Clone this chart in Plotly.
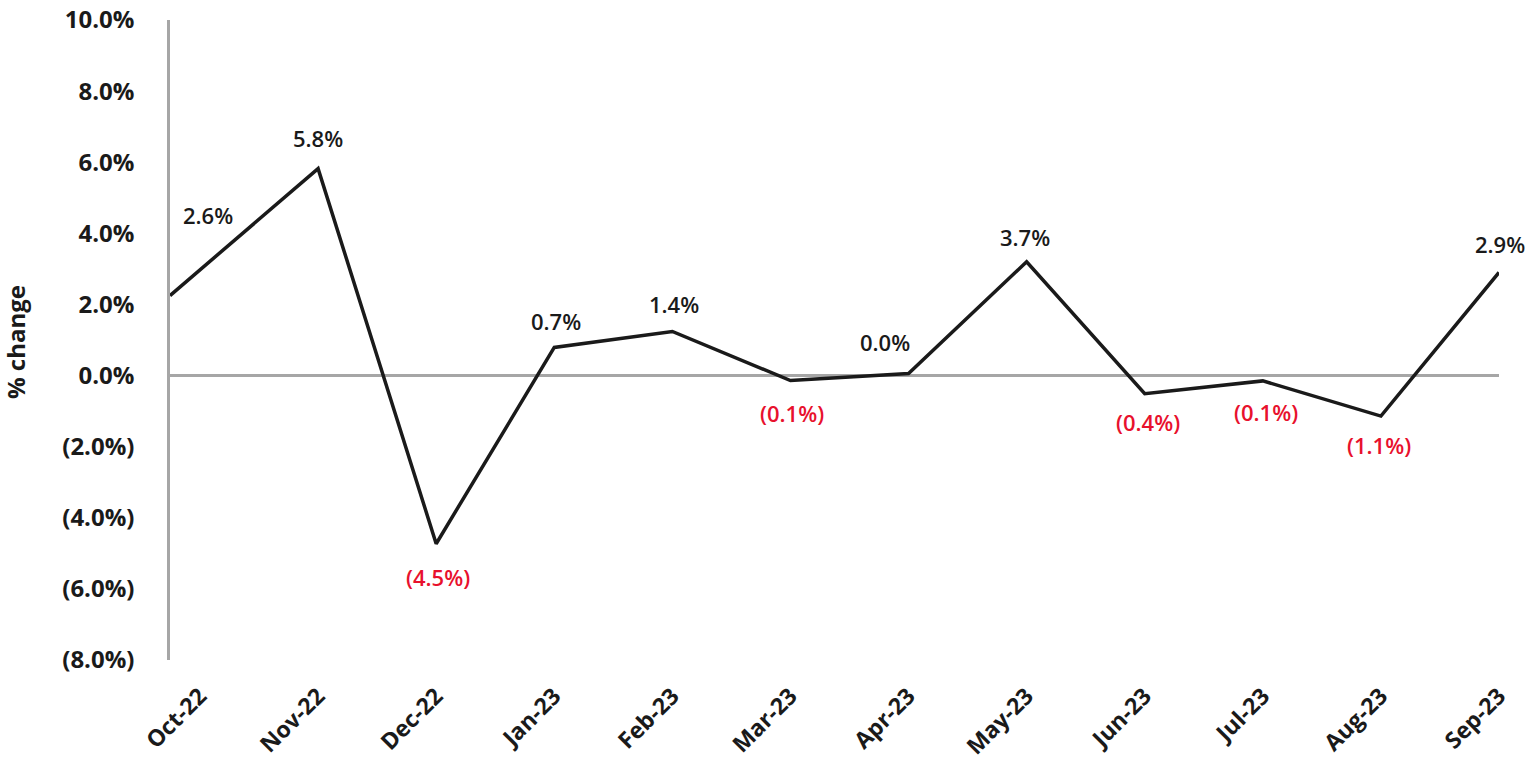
import plotly.graph_objects as go

# ---------------- data ----------------
months = ["Oct-22", "Nov-22", "Dec-22", "Jan-23", "Feb-23", "Mar-23",
          "Apr-23", "May-23", "Jun-23", "Jul-23", "Aug-23", "Sep-23"]
# line vertices as drawn (position on the month axis, % change)
line_pos = [-0.254, 1, 2, 3, 4, 5, 6, 7, 8, 9, 10, 11]
line_values = [2.25, 5.82, -4.73, 0.79, 1.24, -0.14, 0.06, 3.2, -0.51, -0.15, -1.14, 2.9]
# printed data labels
label_values = [2.6, 5.8, -4.5, 0.7, 1.4, -0.1, 0.0, 3.7, -0.4, -0.1, -1.1, 2.9]
y_ticks = [10, 8, 6, 4, 2, 0, -2, -4, -6, -8]
y_title = "% change"


def fmt(v):
    return f"{v:.1f}%" if v >= 0 else f"({abs(v):.1f}%)"


# ---------------- style ----------------
FONT = "Open Sans"
BLACK = "#1a1a1a"
RED = "#E8112D"
GREY = "#A6A6A6"
label_yshift = [81, 31, -33, 26, 27, -32, 31, 25, -28, -31, -29, 28]
label_xshift = [8, 0, 2, 2, 2, 2, -24, -2, 3, 3, -2, 1]

fig = go.Figure()
fig.add_trace(go.Scatter(
    x=line_pos, y=line_values, mode="lines",
    line=dict(color=BLACK, width=3.5),
    hoverinfo="skip", showlegend=False,
))

for i, v in enumerate(label_values):
    fig.add_annotation(
        x=i, y=line_values[i], text=fmt(v), showarrow=False,
        xref="x", yref="y", yshift=label_yshift[i], xshift=label_xshift[i],
        font=dict(family=FONT, size=22, weight=600, color=RED if v < 0 else BLACK),
    )

# y-axis title
fig.add_annotation(
    x=0, y=0.5, xref="paper", yref="paper", text=y_title, showarrow=False,
    textangle=-90, xanchor="center", yanchor="middle", xshift=-155, yshift=-2,
    font=dict(family=FONT, size=24, weight="bold", color=BLACK),
)

fig.update_layout(
    template="none",
    width=1536, height=769,
    margin=dict(l=170, r=37, t=20, b=109, autoexpand=False),
    paper_bgcolor="white", plot_bgcolor="white",
    showlegend=False,
)
fig.update_xaxes(
    automargin=False,
    range=[line_pos[0], 11],
    tickmode="array", tickvals=list(range(len(months))), ticktext=months,
    tickangle=-45, showgrid=False, zeroline=False, showline=False,
    ticks="", ticklabelstandoff=17, ticklabeloverflow="allow",
    tickfont=dict(family=FONT, size=23, weight="bold", color=BLACK),
)
fig.update_yaxes(
    automargin=False,
    range=[-8, 10],
    tickmode="array", tickvals=y_ticks, ticktext=[fmt(t) for t in y_ticks],
    showgrid=False, showline=True, linecolor=GREY, linewidth=2.5,
    zeroline=True, zerolinecolor=GREY, zerolinewidth=2.5,
    ticks="", ticklabelstandoff=28, ticklabeloverflow="allow",
    tickfont=dict(family=FONT, size=24, weight="bold", color=BLACK),
)

# remove the browser's default 8px body margin so the 1536x769 figure fills the window
fig.write_html(
    "out.html",
    config={"displayModeBar": False},
    post_script="document.body.style.margin='0';document.body.style.overflow='hidden';",
)
